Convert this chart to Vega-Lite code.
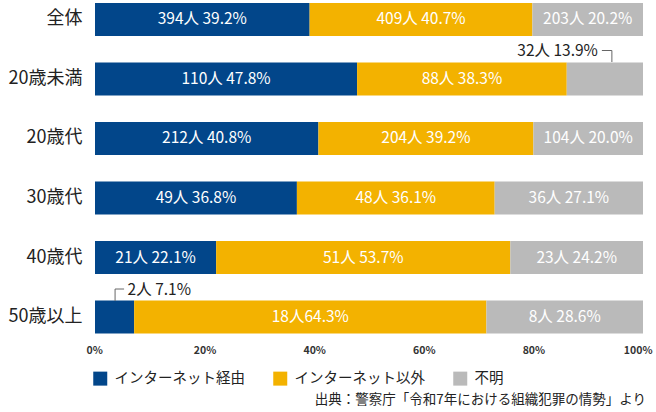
{
  "$schema": "https://vega.github.io/schema/vega-lite/v6.json",
  "width": 548,
  "height": 336.5,
  "autosize": "none",
  "padding": {"left": 95, "top": 0, "right": 13, "bottom": 75.5},
  "background": "white",
  "config": {"font": "Noto Sans CJK JP", "view": {"stroke": null}},
  "title": {
    "text": "出典：警察庁「令和7年における組織犯罪の情勢」より",
    "orient": "bottom",
    "anchor": "end",
    "frame": "group",
    "fontSize": 13.5,
    "fontWeight": "normal",
    "color": "#222222",
    "offset": 7,
    "dx": 3
  },
  "data": {
    "values": [
      {"cat": "全体", "type": "インターネット経由", "n": 394, "pct": 39.2, "label": "394人 39.2%"},
      {"cat": "全体", "type": "インターネット以外", "n": 409, "pct": 40.7, "label": "409人 40.7%"},
      {"cat": "全体", "type": "不明", "n": 203, "pct": 20.2, "label": "203人 20.2%"},
      {"cat": "20歳未満", "type": "インターネット経由", "n": 110, "pct": 47.8, "label": "110人 47.8%"},
      {"cat": "20歳未満", "type": "インターネット以外", "n": 88, "pct": 38.3, "label": "88人 38.3%"},
      {"cat": "20歳未満", "type": "不明", "n": 32, "pct": 13.9, "label": "32人 13.9%"},
      {"cat": "20歳代", "type": "インターネット経由", "n": 212, "pct": 40.8, "label": "212人 40.8%"},
      {"cat": "20歳代", "type": "インターネット以外", "n": 204, "pct": 39.2, "label": "204人 39.2%"},
      {"cat": "20歳代", "type": "不明", "n": 104, "pct": 20.0, "label": "104人 20.0%"},
      {"cat": "30歳代", "type": "インターネット経由", "n": 49, "pct": 36.8, "label": "49人 36.8%"},
      {"cat": "30歳代", "type": "インターネット以外", "n": 48, "pct": 36.1, "label": "48人 36.1%"},
      {"cat": "30歳代", "type": "不明", "n": 36, "pct": 27.1, "label": "36人 27.1%"},
      {"cat": "40歳代", "type": "インターネット経由", "n": 21, "pct": 22.1, "label": "21人 22.1%"},
      {"cat": "40歳代", "type": "インターネット以外", "n": 51, "pct": 53.7, "label": "51人 53.7%"},
      {"cat": "40歳代", "type": "不明", "n": 23, "pct": 24.2, "label": "23人 24.2%"},
      {"cat": "50歳以上", "type": "インターネット経由", "n": 2, "pct": 7.1, "label": "2人 7.1%"},
      {"cat": "50歳以上", "type": "インターネット以外", "n": 18, "pct": 64.3, "label": "18人64.3%"},
      {"cat": "50歳以上", "type": "不明", "n": 8, "pct": 28.6, "label": "8人 28.6%"}
    ]
  },
  "transform": [
    {"calculate": "indexof(['インターネット経由','インターネット以外','不明'], datum.type)", "as": "rank"},
    {"stack": "n", "groupby": ["cat"], "sort": [{"field": "rank", "order": "ascending"}], "offset": "normalize", "as": ["x0", "x1"]},
    {"calculate": "(datum.x0 + datum.x1) / 2", "as": "mid"}
  ],
  "encoding": {
    "y": {
      "field": "cat",
      "type": "nominal",
      "sort": ["全体", "20歳未満", "20歳代", "30歳代", "40歳代", "50歳以上"],
      "scale": {"paddingInner": 0.445, "paddingOuter": 0.05},
      "axis": {
        "title": null,
        "domain": false,
        "ticks": false,
        "labelFontSize": 18,
        "labelColor": "#222222",
        "labelPadding": 13
      }
    }
  },
  "layer": [
    {
      "mark": {"type": "bar"},
      "encoding": {
        "x": {
          "field": "x0",
          "type": "quantitative",
          "scale": {"domain": [0, 1], "nice": false},
          "axis": {
            "title": null,
            "values": [0, 0.2, 0.4, 0.6, 0.8, 1],
            "format": ".0%",
            "domain": false,
            "ticks": false,
            "grid": false,
            "labelFlush": true,
            "labelFlushOffset": 9,
            "labelFontSize": 10.5,
            "labelFontWeight": "bold",
            "labelColor": "#333333",
            "labelPadding": 9
          }
        },
        "x2": {"field": "x1"},
        "color": {
          "field": "type",
          "type": "nominal",
          "scale": {
            "domain": ["インターネット経由", "インターネット以外", "不明"],
            "range": ["#02468a", "#f3b200", "#bababa"]
          },
          "legend": {
            "orient": "none",
            "legendX": -2,
            "legendY": 371,
            "direction": "horizontal",
            "title": null,
            "symbolType": "square",
            "symbolSize": 196,
            "symbolStrokeWidth": 0,
            "symbolOpacity": 1,
            "labelFontSize": 14.5,
            "labelColor": "#222222",
            "labelOffset": 7,
            "columnPadding": 28
          }
        }
      }
    },
    {
      "transform": [
        {"filter": "!(datum.cat === '20歳未満' && datum.type === '不明') && !(datum.cat === '50歳以上' && datum.type === 'インターネット経由')"}
      ],
      "mark": {"type": "text", "color": "white", "fontSize": 15.5, "baseline": "middle"},
      "encoding": {
        "x": {"field": "mid", "type": "quantitative"},
        "text": {"field": "label"}
      }
    },
    {
      "transform": [{"filter": "datum.cat === '20歳未満' && datum.type === '不明'"}],
      "mark": {"type": "text", "color": "#222222", "fontSize": 15.5, "baseline": "middle", "align": "right", "dx": -7, "dy": -28},
      "encoding": {
        "x": {"field": "mid", "type": "quantitative"},
        "text": {"field": "label"}
      }
    },
    {
      "transform": [{"filter": "datum.cat === '20歳未満' && datum.type === '不明'"}],
      "mark": {"type": "tick", "orient": "horizontal", "color": "#666666", "thickness": 1, "size": 10, "xOffset": 2, "yOffset": -28.5, "opacity": 1},
      "encoding": {
        "x": {"field": "mid", "type": "quantitative"}
      }
    },
    {
      "transform": [{"filter": "datum.cat === '20歳未満' && datum.type === '不明'"}],
      "mark": {"type": "tick", "orient": "vertical", "color": "#666666", "thickness": 1, "size": 11.5, "xOffset": 7, "yOffset": -22.75, "opacity": 1},
      "encoding": {
        "x": {"field": "mid", "type": "quantitative"}
      }
    },
    {
      "transform": [{"filter": "datum.cat === '50歳以上' && datum.type === 'インターネット経由'"}],
      "mark": {"type": "text", "color": "#222222", "fontSize": 15.5, "baseline": "middle", "align": "left", "dx": 13, "dy": -27},
      "encoding": {
        "x": {"field": "mid", "type": "quantitative"},
        "text": {"field": "label"}
      }
    },
    {
      "transform": [{"filter": "datum.cat === '50歳以上' && datum.type === 'インターネット経由'"}],
      "mark": {"type": "tick", "orient": "horizontal", "color": "#666666", "thickness": 1, "size": 9, "xOffset": 5, "yOffset": -28, "opacity": 1},
      "encoding": {
        "x": {"field": "mid", "type": "quantitative"}
      }
    },
    {
      "transform": [{"filter": "datum.cat === '50歳以上' && datum.type === 'インターネット経由'"}],
      "mark": {"type": "tick", "orient": "vertical", "color": "#666666", "thickness": 1, "size": 12, "xOffset": 0.5, "yOffset": -22, "opacity": 1},
      "encoding": {
        "x": {"field": "mid", "type": "quantitative"}
      }
    }
  ]
}
